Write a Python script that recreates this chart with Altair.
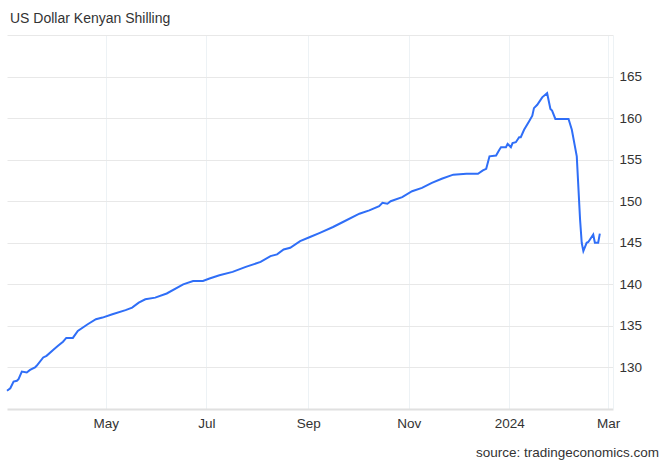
import altair as alt
import pandas as pd

title_text = "US Dollar Kenyan Shilling"
source_text = "source: tradingeconomics.com"

dates = [
    "2023-03-02", "2023-03-04", "2023-03-06", "2023-03-08", "2023-03-09", "2023-03-11",
    "2023-03-14", "2023-03-16", "2023-03-19", "2023-03-20", "2023-03-24", "2023-03-26",
    "2023-03-30", "2023-04-02", "2023-04-05", "2023-04-07", "2023-04-11", "2023-04-14",
    "2023-04-20", "2023-04-25", "2023-04-29", "2023-05-05", "2023-05-13", "2023-05-17",
    "2023-05-21", "2023-05-25", "2023-05-31", "2023-06-07", "2023-06-17", "2023-06-23",
    "2023-06-29", "2023-07-03", "2023-07-09", "2023-07-17", "2023-07-25", "2023-08-03",
    "2023-08-09", "2023-08-13", "2023-08-17", "2023-08-21", "2023-08-27", "2023-09-02",
    "2023-09-08", "2023-09-16", "2023-09-22", "2023-10-02", "2023-10-08", "2023-10-14",
    "2023-10-16", "2023-10-19", "2023-10-21", "2023-10-28", "2023-11-03", "2023-11-09",
    "2023-11-15", "2023-11-21", "2023-11-28", "2023-12-06", "2023-12-13", "2023-12-16",
    "2023-12-18", "2023-12-20", "2023-12-24", "2023-12-26", "2023-12-27", "2023-12-30",
    "2023-12-31", "2024-01-02", "2024-01-03", "2024-01-05", "2024-01-07", "2024-01-08",
    "2024-01-10", "2024-01-13", "2024-01-15", "2024-01-16", "2024-01-18", "2024-01-21",
    "2024-01-24", "2024-01-26", "2024-01-27", "2024-01-29", "2024-02-06", "2024-02-08",
    "2024-02-11", "2024-02-13", "2024-02-14", "2024-02-15", "2024-02-17", "2024-02-18",
    "2024-02-21", "2024-02-22", "2024-02-24", "2024-02-25",
]
values = [
    127.2, 127.5, 128.3, 128.4, 128.6, 129.5,
    129.4, 129.7, 130.0, 130.2, 131.2, 131.4,
    132.1, 132.6, 133.1, 133.55, 133.55, 134.4,
    135.2, 135.8, 136.0, 136.4, 136.9, 137.2,
    137.8, 138.2, 138.4, 138.9, 140.0, 140.4,
    140.4, 140.7, 141.1, 141.5, 142.1, 142.7,
    143.4, 143.6, 144.2, 144.4, 145.2, 145.7,
    146.2, 146.9, 147.5, 148.5, 148.9, 149.4,
    149.8, 149.7, 150.0, 150.5, 151.2, 151.6,
    152.2, 152.7, 153.2, 153.3, 153.3, 153.7,
    153.9, 155.4, 155.5, 156.2, 156.5, 156.5,
    156.9, 156.5, 157.0, 157.1, 157.7, 157.7,
    158.6, 159.6, 160.3, 161.2, 161.6, 162.5,
    163.0, 161.1, 160.9, 159.9, 159.9, 158.6,
    155.4, 147.8, 145.0, 144.0, 145.0, 145.1,
    146.0, 145.0, 145.0, 146.1,
]

x_ticks = [(2023, 5, 1), (2023, 7, 1), (2023, 9, 1), (2023, 11, 1), (2024, 1, 1), (2024, 3, 1)]
x_domain = [(2023, 3, 2), (2024, 3, 4)]
y_ticks = [130, 135, 140, 145, 150, 155, 160, 165, 170]
y_domain = [125, 170]

FONT = "Liberation Sans"
TXT = "#333333"

df = pd.DataFrame({"date": dates, "value": values})


def dt(t):
    return alt.DateTime(year=t[0], month=t[1], date=t[2], utc=True)


line = alt.Chart(df).mark_line(color="#2f6ef7", strokeWidth=2).encode(
    x=alt.X(
        "date:T",
        title=None,
        scale=alt.Scale(type="utc", domain=[dt(d) for d in x_domain]),
        axis=alt.Axis(
            values=[dt(d) for d in x_ticks],
            labelExpr="utcFormat(datum.value, '%m') == '01' ? utcFormat(datum.value, '%Y') : utcFormat(datum.value, '%b')",
            grid=True,
            gridColor="#edf2f5",
            gridWidth=1,
            ticks=False,
            domain=True,
            domainColor="#e0e0e0",
            domainWidth=2,
            labelPadding=7,
            labelFontSize=13.5,
            labelColor=TXT,
            labelFont=FONT,
        ),
    ),
    y=alt.Y(
        "value:Q",
        title=None,
        scale=alt.Scale(domain=y_domain, nice=False, zero=False),
        axis=alt.Axis(
            orient="right",
            values=y_ticks,
            labelExpr="datum.value == 170 ? '' : datum.label",
            grid=True,
            gridColor="#e8e8e8",
            gridWidth=1,
            ticks=False,
            domain=True,
            domainColor="#edf2f5",
            domainWidth=1,
            labelPadding=6,
            labelFontSize=13.5,
            labelColor=TXT,
            labelFont=FONT,
        ),
    ),
)

title_layer = alt.Chart(pd.DataFrame({"t": [title_text]})).mark_text(
    align="left", baseline="alphabetic", font=FONT, fontSize=14, color=TXT
).encode(text="t:N", x=alt.value(3), y=alt.value(-12))

source_layer = alt.Chart(pd.DataFrame({"t": [source_text]})).mark_text(
    align="right", baseline="alphabetic", font=FONT, fontSize=13.5, color=TXT
).encode(text="t:N", x=alt.value(652), y=alt.value(422))

chart = (
    alt.layer(line, title_layer, source_layer)
    .properties(
        width=606,
        height=374,
        autosize="none",
        padding={"left": 7, "top": 35, "right": 54, "bottom": 54},
        background="white",
    )
    .configure_view(stroke=None)
)

chart.save("out.html", embed_options={"renderer": "svg", "actions": False})
